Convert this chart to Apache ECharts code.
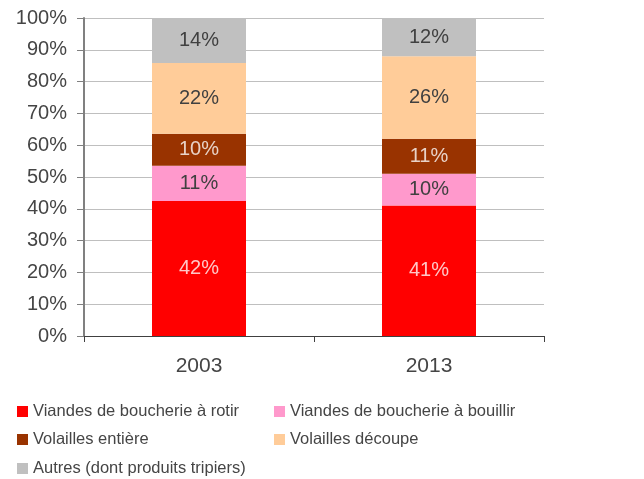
<!DOCTYPE html>
<html>
<head>
<meta charset="utf-8">
<script src="https://cdn.jsdelivr.net/npm/echarts@6/dist/echarts.min.js"></script>
<style>
  html, body { margin: 0; padding: 0; background: #fff; }
  #chart { width: 644px; height: 479px; }
</style>
</head>
<body>
<div id="chart"></div>
<script>
// données (parts en %)
var categories = ['2003', '2013'];
var rotir = [42, 41];
var bouillir = [11, 10];
var entiere = [10, 11];
var decoupe = [22, 26];
var autres = [14, 12];

var names = [
  'Viandes de boucherie à rotir',
  'Viandes de boucherie à bouillir',
  'Volailles entière',
  'Volailles découpe',
  'Autres (dont produits tripiers)'
];
var colors = ['#ff0000', '#ff99cc', '#993300', '#ffcc99', '#c0c0c0'];
var raw = [rotir, bouillir, entiere, decoupe, autres];

// empilé 100% : on normalise par catégorie
var totals = categories.map(function (c, i) {
  return raw.reduce(function (s, arr) { return s + arr[i]; }, 0);
});

var font = 'Liberation Sans';
var textColor = '#454545';
var lightText = ['rgba(255,255,255,0.78)', '#404040', 'rgba(255,255,255,0.78)', '#404040', '#404040'];

// une légende par entrée, placée à la main (2 colonnes)
var legendPos = [[12, 398], [269, 398], [12, 426], [269, 426], [12, 455]];
var legends = names.map(function (n, k) {
  return {
    data: [n],
    left: legendPos[k][0], top: legendPos[k][1],
    itemWidth: 11, itemHeight: 11,
    icon: 'rect',
    textStyle: { fontFamily: font, fontSize: 16.5, color: textColor }
  };
});

var chart = echarts.init(document.getElementById('chart'));
var option = {
  backgroundColor: '#fff',
  animation: false,
  grid: { left: 84, right: 100, top: 18, bottom: 143 },
  legend: legends,
  xAxis: {
    type: 'category',
    data: categories,
    axisLine: { lineStyle: { color: '#404040', width: 1 } },
    axisTick: { show: true, length: 6, lineStyle: { color: '#404040' } },
    axisLabel: { fontFamily: font, fontSize: 21, color: textColor, margin: 20 }
  },
  yAxis: {
    type: 'value',
    min: 0, max: 100, interval: 10,
    axisLine: { show: true, lineStyle: { color: '#808080', width: 2 } },
    axisTick: { show: true, length: 7, lineStyle: { color: '#808080' } },
    splitLine: { lineStyle: { color: '#bfbfbf', width: 1 } },
    axisLabel: { formatter: '{value}%', fontFamily: font, fontSize: 20, color: textColor, margin: 17, padding: [3, 0, 0, 0] }
  },
  series: raw.map(function (arr, k) {
    return {
      name: names[k],
      type: 'bar',
      stack: 'total',
      barWidth: 94,
      itemStyle: { color: colors[k] },
      label: {
        show: true,
        position: 'inside',
        fontFamily: font,
        fontSize: 20,
        color: lightText[k],
        formatter: function (p) { return raw[p.seriesIndex][p.dataIndex] + '%'; }
      },
      data: arr.map(function (v, i) { return v / totals[i] * 100; })
    };
  })
};
chart.setOption(option);
</script>
</body>
</html>
